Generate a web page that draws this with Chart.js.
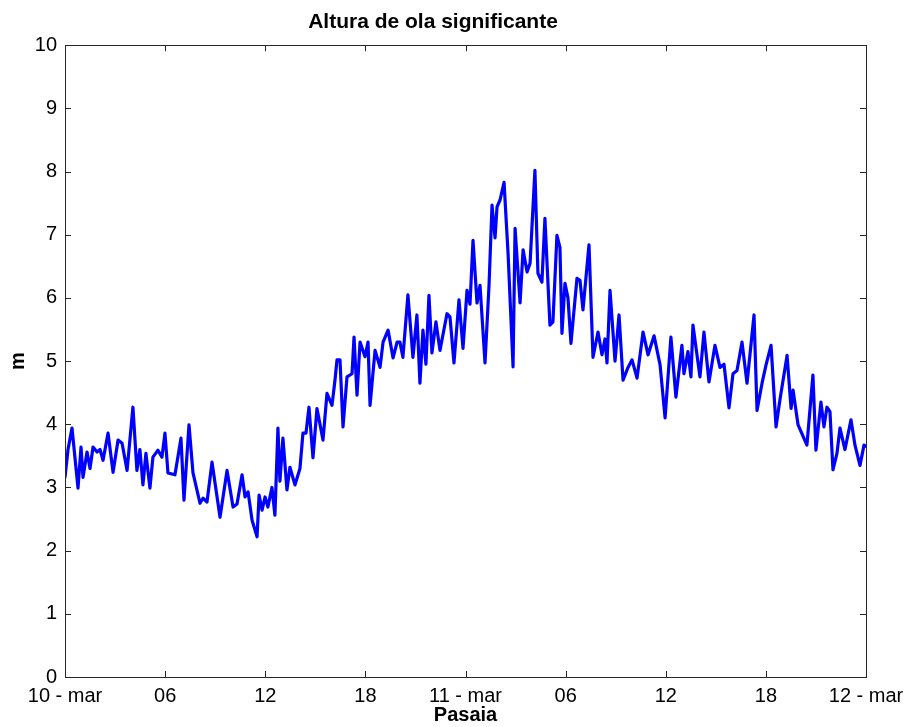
<!DOCTYPE html>
<html>
<head>
<meta charset="utf-8">
<script src="https://cdn.jsdelivr.net/npm/chart.js@4.4.1/dist/chart.umd.min.js"></script>
<style>
  html, body { margin: 0; padding: 0; background: #fff; }
  #wrap { width: 907px; height: 727px; }
</style>
</head>
<body>
<div id="wrap"><canvas id="waveChart" width="907" height="727"></canvas></div>
<script>
// hours since 10-mar 00:00
const hours = [
  0.00, 0.18, 0.42, 0.78, 0.96, 1.08, 1.32, 1.50, 1.68, 1.92, 2.10, 2.28, 2.58, 2.88, 3.18, 3.42, 3.72,
  4.07, 4.31, 4.49, 4.67, 4.85, 5.09, 5.27, 5.57, 5.81, 5.99, 6.17, 6.59, 6.95, 7.13, 7.43, 7.67,
  8.09, 8.27, 8.51, 8.81, 9.29, 9.71, 10.07, 10.31, 10.61, 10.79, 10.97, 11.21, 11.51, 11.63, 11.81,
  11.99, 12.16, 12.40, 12.58, 12.76, 12.88, 13.06, 13.30, 13.48, 13.78, 14.08, 14.26, 14.44, 14.62,
  14.86, 15.10, 15.46, 15.70, 16.00, 16.18, 16.30, 16.48, 16.66, 16.90, 17.20, 17.32, 17.50, 17.68,
  17.98, 18.16, 18.28, 18.58, 18.88, 19.06, 19.36, 19.66, 19.90, 20.07, 20.25, 20.55, 20.85, 21.09,
  21.27, 21.45, 21.63, 21.81, 21.99, 22.23, 22.47, 22.71, 22.89, 23.07, 23.31, 23.61, 23.85, 24.09,
  24.27, 24.45, 24.69, 24.87, 25.17, 25.41, 25.59, 25.77, 25.89, 26.07, 26.31, 26.55, 26.85, 26.97,
  27.27, 27.45, 27.69, 27.87, 28.16, 28.34, 28.58, 28.76, 29.06, 29.24, 29.48, 29.66, 29.78, 29.96,
  30.14, 30.32, 30.68, 30.86, 31.04, 31.40, 31.64, 31.94, 32.18, 32.36, 32.48, 32.66, 32.96, 33.20,
  33.44, 33.74, 33.98, 34.28, 34.64, 34.94, 35.30, 35.66, 35.96, 36.31, 36.61, 36.97, 37.09, 37.33,
  37.51, 37.63, 38.05, 38.29, 38.59, 38.95, 39.25, 39.49, 39.79, 40.03, 40.27, 40.57, 40.87, 41.29,
  41.47, 41.77, 42.01, 42.31, 42.61, 42.85, 43.27, 43.51, 43.63, 43.93, 44.46, 44.82, 45.00, 45.30,
  45.48, 45.66, 45.84, 46.02, 46.26, 46.44, 46.74, 47.10, 47.34, 47.64, 47.88, 48.00
];

// significant wave height (m)
const waveHeight = [
  3.16, 3.60, 3.94, 2.99, 3.64, 3.16, 3.56, 3.30, 3.64, 3.56, 3.60, 3.43, 3.86, 3.24, 3.75, 3.70, 3.27,
  4.27, 3.27, 3.60, 3.04, 3.54, 2.99, 3.48, 3.59, 3.48, 3.86, 3.23, 3.20, 3.78, 2.80, 3.99, 3.23,
  2.75, 2.83, 2.77, 3.40, 2.53, 3.27, 2.69, 2.74, 3.20, 2.85, 2.93, 2.48, 2.22, 2.88, 2.64,
  2.85, 2.69, 3.00, 2.56, 3.94, 3.10, 3.78, 2.96, 3.32, 3.04, 3.30, 3.86, 3.86, 4.27,
  3.47, 4.25, 3.75, 4.49, 4.30, 4.70, 5.02, 5.02, 3.96, 4.75, 4.80, 5.38, 4.46, 5.30,
  5.07, 5.30, 4.30, 5.17, 4.90, 5.30, 5.49, 5.05, 5.30, 5.30, 5.06, 6.05, 5.06, 5.73,
  4.65, 5.49, 4.95, 6.04, 5.13, 5.62, 5.17, 5.50, 5.75, 5.70, 4.97, 5.97, 5.20, 6.12,
  5.90, 6.91, 5.92, 6.20, 4.97, 6.20, 7.47, 6.95, 7.44, 7.55, 7.83, 6.71, 4.91, 7.10,
  5.92, 6.76, 6.41, 6.55, 8.02, 6.39, 6.25, 7.26, 5.57, 5.62, 6.99, 6.80, 5.44, 6.23,
  6.00, 5.28, 6.31, 6.28, 5.81, 6.84, 5.06, 5.46, 5.10, 5.35, 4.97, 6.12, 5.00, 5.73,
  4.70, 4.90, 5.02, 4.73, 5.46, 5.10, 5.40, 4.94, 4.10, 5.38, 4.43, 5.25, 4.80, 5.15,
  4.75, 5.57, 4.75, 5.46, 4.67, 5.25, 4.90, 4.95, 4.26, 4.80, 4.85, 5.30, 4.65, 5.73,
  4.22, 4.65, 4.94, 5.25, 3.96, 4.40, 5.09, 4.25, 4.54, 3.99, 3.67, 4.78, 3.59, 4.35,
  3.96, 4.27, 4.20, 3.28, 3.54, 3.94, 3.60, 4.07, 3.67, 3.35, 3.67, 3.65
];

const tickHours = [0, 6, 12, 18, 24, 30, 36, 42, 48];
const tickLabels = ['10 - mar', '06', '12', '18', '11 - mar', '06', '12', '18', '12 - mar'];

const FONT = "'Liberation Sans', Arial, Helvetica, sans-serif";

// MATLAB-style box with inward ticks on all four sides
const boxTicks = {
  id: 'boxTicks',
  afterDraw(chart) {
    const { ctx, chartArea: a, scales } = chart;
    const len = 6;
    ctx.save();
    ctx.strokeStyle = '#262626';
    ctx.lineWidth = 1;
    ctx.beginPath();
    scales.x.ticks.forEach(t => {
      const px = Math.round(scales.x.getPixelForValue(t.value)) + 0.5;
      ctx.moveTo(px, a.bottom); ctx.lineTo(px, a.bottom - len);
      ctx.moveTo(px, a.top); ctx.lineTo(px, a.top + len);
    });
    scales.y.ticks.forEach(t => {
      const py = Math.round(scales.y.getPixelForValue(t.value)) + 0.5;
      ctx.moveTo(a.left, py); ctx.lineTo(a.left + len, py);
      ctx.moveTo(a.right, py); ctx.lineTo(a.right - len, py);
    });
    ctx.stroke();
    ctx.strokeRect(Math.round(a.left) + 0.5, Math.round(a.top) + 0.5,
      Math.round(a.right - a.left), Math.round(a.bottom - a.top));
    ctx.restore();
  }
};

const ctx = document.getElementById('waveChart').getContext('2d');

new Chart(ctx, {
  type: 'line',
  data: {
    datasets: [{
      label: 'Altura de ola significante',
      data: hours.map((h, i) => ({ x: h, y: waveHeight[i] })),
      borderColor: '#0000ff',
      borderWidth: 3.2,
      borderJoinStyle: 'round',
      borderCapStyle: 'round',
      pointRadius: 0,
      tension: 0,
      fill: false,
    }]
  },
  options: {
    responsive: false,
    animation: false,
    layout: { padding: { left: 0, right: 41, top: 0, bottom: 0 } },
    plugins: {
      legend: { display: false },
      tooltip: { enabled: false },
      title: {
        display: true,
        text: 'Altura de ola significante',
        color: '#000',
        font: { family: FONT, size: 21, weight: 'bold' },
        padding: { top: 10, bottom: 10 }
      }
    },
    scales: {
      x: {
        type: 'linear',
        min: 0,
        max: 48,
        afterBuildTicks: scale => { scale.ticks = tickHours.map(v => ({ value: v })); },
        afterFit: scale => {
          scale.height = 50;
          scale.paddingLeft = 0;
          scale.paddingRight = 0;
        },
        grid: { display: false, drawTicks: false },
        border: { display: false },
        ticks: {
          color: '#000',
          padding: 7,
          maxRotation: 0,
          autoSkip: false,
          font: { family: FONT, size: 20 },
          callback: value => tickLabels[tickHours.indexOf(value)] ?? ''
        },
        title: {
          display: true,
          text: 'Pasaia',
          color: '#000',
          font: { family: FONT, size: 20, weight: 'bold' },
          padding: { top: 0, bottom: 0 }
        }
      },
      y: {
        min: 0,
        max: 10,
        afterFit: scale => { scale.width = 65; },
        grid: { display: false, drawTicks: false },
        border: { display: false },
        ticks: {
          stepSize: 1,
          color: '#000',
          padding: 8,
          font: { family: FONT, size: 20 }
        },
        title: {
          display: true,
          text: 'm',
          color: '#000',
          font: { family: FONT, size: 20, weight: 'bold' },
          padding: { top: 6, bottom: 0 }
        }
      }
    }
  },
  plugins: [boxTicks]
});
</script>
</body>
</html>
